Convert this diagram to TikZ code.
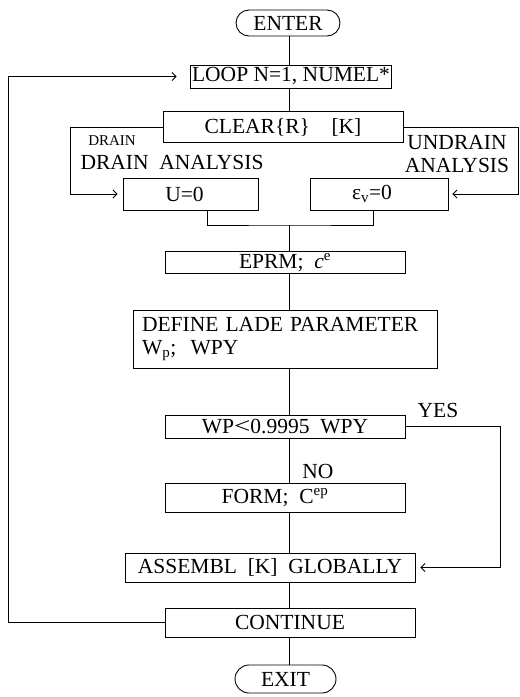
\documentclass[tikz,border=0pt]{standalone}
\usepackage{fontspec}
\setmainfont{Liberation Serif}
\usetikzlibrary{positioning,arrows.meta,shapes.misc}
\tikzset{
  box/.style   = {rectangle, draw=black, line width=0.9pt, align=center,
                  inner sep=2pt, font=\fontsize{21.5}{23}\selectfont},
  term/.style  = {rounded rectangle, draw=black, line width=0.9pt,
                  inner sep=2pt, font=\fontsize{21.5}{23}\selectfont},
  txt/.style   = {inner sep=0pt, align=center, font=\fontsize{21.5}{23}\selectfont},
  link/.style  = {line width=0.9pt, black},
  flow/.style  = {-{Straight Barb[length=4pt,width=8pt]}, line width=0.9pt, black},
}
\newcommand{\wideless}{\scalebox{1.35}[1.05]{<}}

\begin{document}
\begin{tikzpicture}[x=1pt,y=-1pt]
      \useasboundingbox (0,0) rectangle (520,697);

      % main column
      \node[term, minimum width=108pt, minimum height=26pt] (enter) at (288,23) {ENTER};
      \node[box, minimum width=196pt, minimum height=23pt] (loop) at (291,76.5)
           {LOOP\ N{=}1,\ NUMEL*};
      \node[box, minimum width=240pt, minimum height=31pt] (clear) at (283,127)
           {CLEAR\{R\}\quad[K]};
      \node[box, minimum width=135pt, minimum height=32pt] (u) at (190.5,194)
           {U{=}0\hspace*{12pt}};
      \node[box, minimum width=138pt, minimum height=32pt] (ev) at (379,194)
           {ε\textsubscript{v}{=}0\hspace*{14pt}};
      \node[box, minimum width=240pt, minimum height=22pt] (eprm) at (285,262.5)
           {EPRM;\ \ \textit{c}\textsuperscript{e}};
      \node[box, text width=286pt, align=left, inner xsep=9pt, minimum height=58pt] (define) at (285,339)
           {DEFINE\ LADE\ PARAMETER\\W\textsubscript{p};\ \ WPY};
      \node[box, minimum width=240pt, minimum height=23pt] (wp) at (285,426.5)
           {WP\wideless 0.9995\ \ WPY};
      \node[box, minimum width=240pt, minimum height=29pt] (form) at (285,497.5)
           {FORM;\ \ C\textsuperscript{ep}\hspace*{20pt}};
      \node[box, minimum width=290pt, minimum height=29pt] (assem) at (270,567.5)
           {ASSEMBL\ \ [K]\ \ GLOBALLY};
      \node[box, minimum width=250pt, minimum height=29pt] (cont) at (290,622.5) {CONTINUE};
      \node[term, minimum width=105pt, minimum height=28pt] (exit) at (285.5,679) {EXIT};

      % labels
      \node[txt, font=\fontsize{15}{16}\selectfont] (drainsm) at (112,141) {DRAIN};
      \node[txt] (drainlab) at (172,162) {DRAIN\ \ ANALYSIS};
      \node[txt] (undrainlab) at (457,154) {UNDRAIN\\ANALYSIS};
      \node[txt] (yes) at (438,410) {YES};
      \node[txt] (no) at (318,471) {NO};

      % helper coordinates
      \coordinate (spine) at (289,0);
      \coordinate (dleft) at (70,0);
      \coordinate (uright) at (518,0);
      \coordinate (join) at (289,225);
      \coordinate (yesx) at (500,0);
      \coordinate (back) at (8,0);

      \draw[link] (spine|-enter.south) -- (spine|-loop.north);
      \draw[link] (spine|-loop.south) -- (spine|-clear.north);
      \draw[flow, shorten >=5pt] (clear.west) -- (clear.west-|dleft) |- (u.west);
      \draw[flow, shorten >=4pt] (clear.east) -- (clear.east-|uright) |- (ev.east);
      \draw[link] ([xshift=17pt]u.south) |- (join) -| ([xshift=-6pt]ev.south);
      \draw[link] (join) -- (spine|-eprm.north);
      \draw[link] (spine|-eprm.south) -- (spine|-define.north);
      \draw[link] (spine|-define.south) -- (spine|-wp.north);
      \draw[link] (spine|-wp.south) -- (spine|-form.north);
      \draw[flow, shorten >=5pt] (wp.east) -- (wp.east-|yesx) |- (assem.east);
      \draw[link] (spine|-form.south) -- (spine|-assem.north);
      \draw[link] (spine|-assem.south) -- (spine|-cont.north);
      \draw[link] (spine|-cont.south) -- (spine|-exit.north);
      \draw[flow, shorten >=13pt] (cont.west) -- (cont.west-|back) |- (loop.west);

    \end{tikzpicture}
\end{document}
